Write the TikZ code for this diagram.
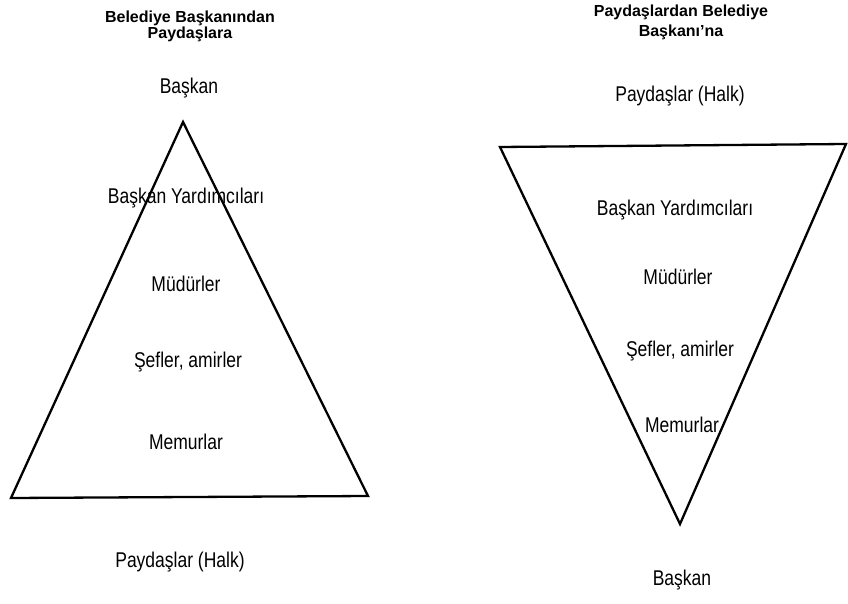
\documentclass[tikz,border=0pt]{standalone}
\usepackage{fontspec}
\usepackage{graphicx}
\setmainfont{Liberation Sans}
\newcommand\stretchtx[1]{\scalebox{1}[1.22]{#1}}
\begin{document}
\begin{tikzpicture}[x=1pt,y=-1pt,
  lbl/.style={font=\fontsize{17.5}{19}\selectfont, inner sep=0pt},
  ttl/.style={font=\bfseries\fontsize{16}{17}\selectfont, inner sep=0pt,
    text height=11.5pt, text depth=3.3pt, anchor=base},
  tri/.style={line width=2.3pt, line join=miter}]
\useasboundingbox (0,0) rectangle (848,604);
% left triangle
\coordinate (la) at (183,122);
\coordinate (lb) at (11,498);
\coordinate (lc) at (368,496);
\draw[tri] (la) -- (lb) -- (lc) -- cycle;
\node[ttl] (lt1) at (190,23) {Belediye Başkanından};
\node[ttl] (lt2) at (190,39) {Paydaşlara};
\node[lbl] (l1) at (189,88) {\stretchtx{Başkan}};
\node[lbl] (l2) at (186,198) {\stretchtx{Başkan Yardımcıları}};
\node[lbl] (l3) at (186,284) {\stretchtx{Müdürler}};
\node[lbl] (l4) at (188,362) {\stretchtx{Şefler, amirler}};
\node[lbl] (l5) at (186,442) {\stretchtx{Memurlar}};
\node[lbl] (l6) at (180,562) {\stretchtx{Paydaşlar (Halk)}};
% right triangle
\coordinate (ra) at (500,147);
\coordinate (rb) at (846,144);
\coordinate (rc) at (680,524);
\draw[tri] (ra) -- (rb) -- (rc) -- cycle;
\node[ttl] (rt1) at (681,17) {Paydaşlardan Belediye};
\node[ttl] (rt2) at (681,36.5) {Başkanı’na};
\node[lbl] (r1) at (680,96) {\stretchtx{Paydaşlar (Halk)}};
\node[lbl] (r2) at (675,210) {\stretchtx{Başkan Yardımcıları}};
\node[lbl] (r3) at (678,277) {\stretchtx{Müdürler}};
\node[lbl] (r4) at (680,351) {\stretchtx{Şefler, amirler}};
\node[lbl] (r5) at (682,425) {\stretchtx{Memurlar}};
\node[lbl] (r6) at (682,580) {\stretchtx{Başkan}};
\end{tikzpicture}
\end{document}
